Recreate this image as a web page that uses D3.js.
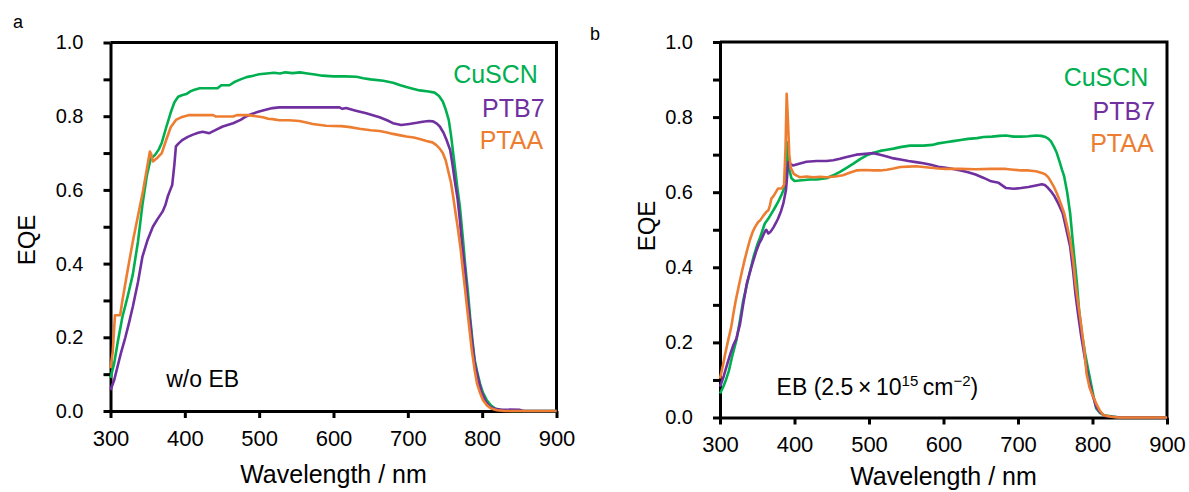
<!DOCTYPE html>
<html>
<head>
<meta charset="utf-8">
<script src="https://cdn.jsdelivr.net/npm/d3@7"></script>
<style>
  body { margin: 0; background: #fff; }
  svg text { font-family: "Liberation Sans", Arial, sans-serif; }
</style>
</head>
<body>
<svg width="1189" height="492"></svg>
<script>
// EQE spectra, [wavelength nm, EQE]
const aCuSCN = [[300,0.09],[305,0.13],[310,0.19],[316,0.255],[323,0.31],[330,0.37],[337,0.46],[343,0.56],[349,0.64],[354,0.684],[360,0.695],[365,0.71],[369,0.728],[375,0.77],[381,0.81],[386,0.838],[391,0.853],[396,0.857],[402,0.86],[408,0.868],[413,0.872],[420,0.876],[432,0.876],[444,0.876],[449,0.884],[460,0.884],[466,0.892],[475,0.9],[483,0.906],[492,0.91],[500,0.914],[510,0.916],[520,0.918],[528,0.916],[535,0.919],[545,0.917],[555,0.919],[565,0.916],[575,0.913],[585,0.91],[600,0.908],[615,0.908],[631,0.907],[640,0.903],[650,0.9],[667,0.896],[680,0.891],[690,0.884],[698,0.879],[708,0.874],[716,0.87],[728,0.867],[736,0.864],[742,0.855],[747,0.84],[751,0.818],[755,0.79],[758,0.75],[761,0.7],[764,0.65],[767,0.6],[770,0.555],[774,0.47],[777,0.4],[781,0.32],[784,0.25],[787,0.19],[790,0.138],[794,0.1],[797,0.075],[801,0.05],[806,0.03],[812,0.015],[818,0.006],[828,0.002],[840,0],[900,0]];
const aPTB7 = [[300,0.057],[305,0.084],[310,0.125],[314,0.157],[320,0.2],[325,0.24],[330,0.283],[337,0.35],[343,0.419],[350,0.465],[357,0.5],[363,0.52],[370,0.541],[374,0.56],[377,0.582],[380,0.598],[383,0.613],[386,0.67],[388,0.718],[392,0.727],[397,0.736],[404,0.744],[411,0.75],[418,0.755],[424,0.758],[433,0.754],[441,0.762],[451,0.772],[465,0.781],[475,0.79],[483,0.8],[490,0.806],[500,0.813],[510,0.818],[518,0.822],[527,0.824],[560,0.824],[590,0.824],[608,0.824],[612,0.82],[617,0.822],[630,0.815],[644,0.808],[654,0.802],[662,0.797],[672,0.789],[680,0.781],[691,0.776],[702,0.779],[712,0.782],[720,0.785],[728,0.787],[734,0.786],[739,0.78],[743,0.772],[748,0.755],[752,0.736],[757,0.708],[760,0.67],[763,0.627],[767,0.575],[770,0.519],[773,0.45],[777,0.383],[780,0.31],[784,0.238],[787,0.18],[790,0.13],[795,0.085],[799,0.052],[805,0.025],[810,0.012],[817,0.006],[824,0.004],[851,0.003],[856,0],[900,0]];
const aPTAA = [[300,0.116],[303,0.16],[306,0.26],[313,0.26],[316,0.3],[322,0.37],[330,0.46],[337,0.53],[344,0.6],[350,0.67],[353,0.704],[355,0.695],[357,0.677],[362,0.685],[369,0.7],[375,0.736],[381,0.77],[388,0.79],[395,0.797],[406,0.803],[420,0.803],[438,0.803],[442,0.799],[455,0.799],[465,0.799],[470,0.803],[485,0.803],[496,0.8],[505,0.797],[512,0.793],[518,0.792],[527,0.789],[540,0.789],[554,0.787],[565,0.782],[572,0.779],[590,0.774],[610,0.773],[620,0.771],[635,0.766],[650,0.762],[662,0.76],[672,0.756],[680,0.752],[690,0.748],[698,0.745],[708,0.742],[716,0.738],[725,0.733],[733,0.729],[738,0.722],[743,0.712],[747,0.7],[751,0.68],[754,0.654],[758,0.62],[761,0.582],[764,0.54],[767,0.5],[771,0.44],[774,0.383],[777,0.33],[779,0.292],[783,0.22],[786,0.166],[790,0.11],[793,0.075],[797,0.05],[801,0.03],[806,0.016],[812,0.007],[820,0.002],[830,0],[900,0]];

const bCuSCN = [[300,0.064],[304,0.08],[308,0.1],[312,0.125],[316,0.16],[322,0.206],[326,0.25],[331,0.31],[338,0.37],[345,0.428],[350,0.46],[354,0.48],[360,0.516],[365,0.53],[369,0.543],[374,0.56],[378,0.574],[383,0.595],[387,0.614],[388.5,0.66],[390,0.733],[391.5,0.7],[393,0.66],[396,0.637],[400,0.63],[410,0.632],[421,0.634],[430,0.634],[443,0.637],[452,0.645],[461,0.654],[470,0.665],[479,0.676],[488,0.688],[497,0.698],[506,0.705],[515,0.71],[524,0.713],[533,0.716],[542,0.72],[555,0.724],[573,0.724],[585,0.726],[593,0.73],[603,0.733],[613,0.736],[623,0.739],[633,0.742],[645,0.744],[654,0.747],[665,0.748],[675,0.75],[684,0.751],[694,0.748],[704,0.748],[714,0.749],[724,0.751],[731,0.75],[737,0.747],[741,0.742],[744,0.736],[748,0.722],[752,0.705],[756,0.68],[759,0.66],[762,0.642],[766,0.6],[770,0.544],[773,0.48],[775,0.438],[779,0.36],[782,0.286],[786,0.22],[790,0.171],[794,0.13],[797,0.1],[801,0.06],[805,0.024],[810,0.012],[815,0.006],[825,0.003],[835,0],[900,0]];
const bPTB7 = [[300,0.082],[305,0.11],[310,0.144],[314,0.17],[318,0.193],[322,0.21],[327,0.25],[331,0.3],[336,0.357],[342,0.4],[349,0.445],[353,0.465],[356,0.476],[360,0.494],[362,0.5],[365,0.49],[368,0.495],[372,0.507],[375,0.518],[378,0.53],[382,0.55],[385,0.57],[388.5,0.605],[390,0.64],[391.5,0.68],[395,0.675],[398,0.671],[405,0.675],[416,0.681],[430,0.683],[443,0.683],[452,0.685],[461,0.689],[470,0.694],[483,0.7],[495,0.702],[506,0.704],[515,0.7],[524,0.695],[533,0.69],[542,0.687],[553,0.683],[563,0.68],[573,0.677],[583,0.673],[593,0.668],[603,0.665],[613,0.662],[623,0.658],[633,0.653],[643,0.647],[654,0.638],[664,0.629],[674,0.625],[684,0.611],[694,0.609],[704,0.611],[714,0.614],[724,0.618],[732,0.621],[736,0.619],[739,0.614],[744,0.603],[749,0.589],[754,0.57],[760,0.544],[765,0.5],[770,0.455],[774,0.39],[777,0.331],[781,0.27],[785,0.215],[790,0.155],[795,0.1],[800,0.06],[805,0.028],[810,0.014],[817,0.004],[826,0.002],[840,0],[900,0]];
const bPTAA = [[300,0.104],[304,0.14],[307,0.17],[311,0.206],[315,0.24],[318,0.277],[321,0.31],[325,0.348],[329,0.385],[333,0.419],[337,0.45],[340,0.472],[344,0.495],[347,0.507],[351,0.52],[354,0.525],[358,0.537],[362,0.547],[365,0.552],[367,0.565],[369,0.583],[372,0.59],[375,0.6],[378,0.61],[383,0.61],[386,0.62],[388,0.72],[389.5,0.862],[391,0.8],[393,0.7],[395,0.665],[399,0.649],[403,0.644],[407,0.64],[416,0.642],[425,0.64],[434,0.641],[443,0.64],[455,0.642],[465,0.645],[474,0.652],[483,0.658],[495,0.659],[506,0.658],[515,0.658],[524,0.66],[533,0.663],[542,0.667],[553,0.668],[563,0.669],[573,0.667],[583,0.665],[593,0.663],[603,0.662],[623,0.662],[643,0.661],[664,0.662],[684,0.662],[694,0.66],[704,0.658],[714,0.658],[724,0.656],[731,0.652],[737,0.647],[741,0.639],[744,0.629],[748,0.615],[752,0.598],[757,0.572],[762,0.544],[766,0.51],[770,0.473],[774,0.42],[777,0.358],[781,0.3],[785,0.242],[789,0.18],[792,0.117],[796,0.08],[800,0.06],[805,0.037],[810,0.018],[815,0.006],[825,0.002],[835,0],[900,0]];

const seriesNames = ["CuSCN", "PTB7", "PTAA"];
const colors = {CuSCN: "#00b050", PTB7: "#7030a0", PTAA: "#ed7d31"};
const xTicks = [300, 400, 500, 600, 700, 800, 900];
const yTicks = d3.range(0, 11).map(i => i / 10);
const yLabels = [0, 0.2, 0.4, 0.6, 0.8, 1.0];

const svg = d3.select("svg");
const font = '"Liberation Sans", Arial, sans-serif';

const panels = [
  {label: "a", lx: 13, ly: 28, left: 110.5, right: 556.5, top: 42.5, bottom: 411,
   data: {CuSCN: aCuSCN, PTB7: aPTB7, PTAA: aPTAA},
   legend: [[875, 0.89], [884, 0.798], [882, 0.711]],
   eqeX: 35, eqeY: 240, titleY: 483, note: "w/o EB", noteAt: [375, 0.065]},
  {label: "b", lx: 590, ly: 40, left: 720, right: 1167, top: 42, bottom: 417.5,
   data: {CuSCN: bCuSCN, PTB7: bPTB7, PTAA: bPTAA},
   legend: [[875, 0.883], [884, 0.792], [882, 0.707]],
   eqeX: 655, eqeY: 226, titleY: 485, note: null, noteAt: [376, 0.06]}
];

panels.forEach(p => {
  const g = svg.append("g");
  const x = d3.scaleLinear().domain([300, 900]).range([p.left, p.right]);
  const y = d3.scaleLinear().domain([0, 1]).range([p.bottom, p.top]);

  // frame top + right
  g.append("path")
      .attr("d", `M${x(300)},${y(1)}H${x(900)}V${y(0)}`)
      .attr("fill", "none").attr("stroke", "#000").attr("stroke-width", 3);

  const xa = g.append("g")
      .attr("transform", `translate(0,${y(0)})`)
      .call(d3.axisBottom(x).tickValues(xTicks).tickSize(7).tickSizeOuter(0)
        .tickPadding(12).tickFormat(d3.format("d")));
  const ya = g.append("g")
      .attr("transform", `translate(${x(300)},0)`)
      .call(d3.axisLeft(y).tickValues(yTicks).tickSize(7).tickSizeOuter(0).tickPadding(20)
        .tickFormat(d => yLabels.some(v => Math.abs(v - d) < 1e-9) ? d.toFixed(1) : ""));
  [xa, ya].forEach(a => {
    a.select(".domain").attr("stroke-width", 3);
    a.selectAll(".tick line").attr("stroke-width", 3);
    a.selectAll("text").attr("fill", "#000").attr("font-family", font);
  });
  xa.selectAll("text").attr("font-size", 22);
  ya.selectAll("text").attr("font-size", 20);

  const line = d3.line().x(d => x(d[0])).y(d => y(d[1]));
  seriesNames.forEach(s => {
    g.append("path")
        .datum(p.data[s])
        .attr("d", line)
        .attr("fill", "none")
        .attr("stroke", colors[s])
        .attr("stroke-width", 2.6)
        .attr("stroke-linejoin", "round");
  });

  // legend labels
  seriesNames.forEach((s, i) => {
    g.append("text")
        .attr("x", x(p.legend[i][0])).attr("y", y(p.legend[i][1]))
        .attr("text-anchor", "end")
        .attr("font-size", 25)
        .attr("fill", colors[s])
        .text(s);
  });

  // annotation
  const note = g.append("text")
      .attr("x", x(p.noteAt[0])).attr("y", y(p.noteAt[1]))
      .attr("font-size", 23).attr("fill", "#000");
  if (p.note) {
    note.text(p.note);
  } else {
    note.append("tspan").text("EB (2.5\u2009\u00d7\u200910");
    note.append("tspan").attr("dy", -9).attr("font-size", 15).text("15");
    note.append("tspan").attr("dy", 9).text("\u2009cm");
    note.append("tspan").attr("dy", -9).attr("font-size", 15).text("\u22122");
    note.append("tspan").attr("dy", 9).text(")");
  }

  g.append("text")
      .attr("x", (p.left + p.right) / 2).attr("y", p.titleY)
      .attr("text-anchor", "middle").attr("font-size", 25)
      .text("Wavelength / nm");

  g.append("text")
      .attr("transform", `translate(${p.eqeX},${p.eqeY}) rotate(-90)`)
      .attr("text-anchor", "middle").attr("font-size", 24)
      .text("EQE");

  svg.append("text")
      .attr("x", p.lx).attr("y", p.ly)
      .attr("font-size", 18)
      .text(p.label);
});
</script>
</body>
</html>
